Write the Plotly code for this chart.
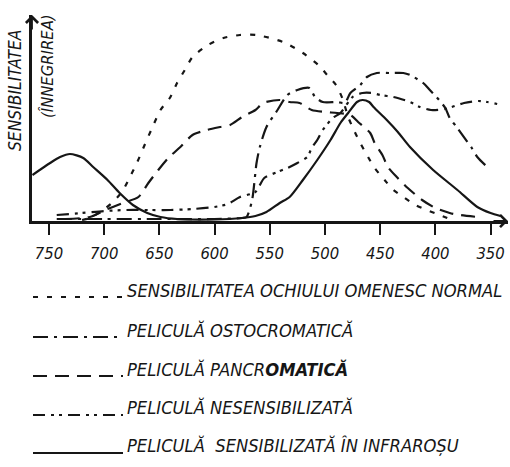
import plotly.graph_objects as go

# ---------------- data ----------------
tick_vals = [750, 700, 650, 600, 550, 500, 450, 400, 350]
tick_text = ["750", "700", "650", "600", "550", "500", "450", "400", "350"]

# Sensibilitatea ochiului omenesc normal (short dashes)
eye_wl = [720, 713, 701, 692, 684, 678, 670, 663, 657, 649, 640, 634, 627, 620, 606, 592, 577,
          562, 538, 520, 506, 498, 490, 484, 479, 473, 468, 461, 455, 446, 438, 429, 418, 408,
          396, 387]
eye_val = [1, 3, 11, 19, 29, 41, 59, 77, 92, 111, 124, 138, 151, 164, 176, 183, 186,
           186, 179, 168, 156, 146, 136, 122, 104, 89, 78, 64, 53, 41, 31, 24, 16, 11,
           6, 2]

# Pelicula ortocromatica (dash-dot)
orto_wl = [743, 700, 650, 600, 575, 571, 566, 562, 559, 553, 543, 534, 525, 514, 509, 502, 489,
           482, 477, 468, 462, 453, 441, 429, 423, 411, 405, 399, 391, 387, 380, 371, 367, 362, 352]
orto_val = [2, 2, 2, 2, 3, 4, 21, 58, 74, 94, 111, 126, 131, 133, 124, 119, 119,
            118, 128, 136, 144, 148, 148, 148, 146, 138, 131, 124, 113, 103, 93, 79, 73, 64, 53]

# Pelicula pancromatica (long dashes)
pan_wl = [735, 713, 699, 683, 669, 660, 651, 642, 631, 620, 607, 595, 586, 575, 563, 556, 541,
          532, 523, 512, 500, 489, 477, 470, 459, 455, 448, 443, 435, 425, 412, 400, 387, 378, 362]
pan_val = [2, 4, 11, 18, 24, 38, 51, 63, 74, 86, 91, 94, 96, 104, 111, 118, 121,
           119, 118, 111, 109, 108, 106, 99, 88, 78, 66, 54, 44, 33, 21, 13, 8, 6, 4]

# Pelicula nesensibilizata (dash-dot-dot)
nes_wl = [743, 720, 700, 680, 660, 640, 620, 600, 588, 577, 563, 555, 543, 534, 525, 516, 512,
          507, 502, 493, 486, 475, 466, 457, 450, 438, 423, 414, 404, 391, 385, 374, 361, 353, 344]
nes_val = [6, 8, 10, 11, 11, 11, 12, 14, 17, 24, 29, 43, 49, 53, 58, 64, 73,
           81, 91, 103, 108, 124, 128, 128, 126, 124, 119, 114, 111, 112, 114, 118, 120, 119, 117]

# Pelicula sensibilizata in infrarosu (solid)
ir_wl = [765, 749, 740, 731, 719, 710, 697, 686, 674, 661, 649, 634, 600, 575, 563, 553, 541,
         532, 520, 507, 495, 486, 479, 471, 466, 460, 456, 444, 434, 423, 402, 380, 362, 350, 341]
ir_val = [46, 58, 64, 67, 63, 54, 41, 28, 16, 8, 4, 2, 1.5, 3, 5, 9, 18,
          24, 41, 61, 81, 98, 108, 119, 121, 119, 114, 101, 89, 74, 51, 31, 14, 8, 5]

series_names = [
    "SENSIBILITATEA OCHIULUI OMENESC NORMAL",
    "PELICULĂ OSTOCROMATICĂ",
    "PELICULĂ PANCR<b>OMATICĂ</b>",
    "PELICULĂ NESENSIBILIZATĂ",
    "PELICULĂ  SENSIBILIZATĂ ÎN INFRAROȘU",
]
y_title_1 = "SENSIBILITATEA"
y_title_2 = "(ÎNNEGRIREA)"

# ---------------- styling ----------------
INK = "#161616"
FONT = "DejaVu Sans Condensed, sans-serif"
dashes = ["5px,9px", "15px,6px,3px,6px", "14px,8px", "12px,6px,3px,5px,3px,6px", "solid"]
series = [(eye_wl, eye_val), (orto_wl, orto_val), (pan_wl, pan_val), (nes_wl, nes_val), (ir_wl, ir_val)]

W, H = 510, 467
L, R, T, B = 32, 2, 15, 246
x_range = [765.4, 334.2]
y_range = [0, 206]

fig = go.Figure()
for (wl, val), dash, name in zip(series, dashes, series_names):
    fig.add_trace(go.Scatter(
        x=wl, y=val, mode="lines", name=name, showlegend=False,
        line=dict(color=INK, width=2.2, dash=dash, shape="spline", smoothing=0.7),
        hoverinfo="skip",
    ))

pw = W - L - R
ph = H - T - B


def px_x(x):
    return (x - L) / pw


def px_y(y):
    return (H - B - y) / ph


shapes = []
annotations = []
row_text_y = [290, 330, 369, 407, 445]
row_line_y = [297, 337, 376, 415, 453]
for i, name in enumerate(series_names):
    shapes.append(dict(type="line", xref="paper", yref="paper",
                       x0=px_x(33), x1=px_x(123), y0=px_y(row_line_y[i]), y1=px_y(row_line_y[i]),
                       line=dict(color=INK, width=2, dash=dashes[i])))
    annotations.append(dict(xref="paper", yref="paper", x=px_x(125), y=px_y(row_text_y[i]),
                            text=name, showarrow=False, xanchor="left", yanchor="middle",
                            font=dict(family=FONT, size=18.2, color=INK, style="italic")))

# axis titles
annotations.append(dict(xref="paper", yref="paper", x=px_x(15), y=px_y(90), text=y_title_1,
                        textangle=-90, showarrow=False, xanchor="center", yanchor="middle",
                        font=dict(family=FONT, size=17.3, color=INK, style="italic")))
annotations.append(dict(xref="paper", yref="paper", x=px_x(47), y=px_y(66), text=y_title_2,
                        textangle=-90, showarrow=False, xanchor="center", yanchor="middle",
                        font=dict(family=FONT, size=16.5, color=INK, style="italic")))
# axis arrows
annotations.append(dict(xref="paper", yref="paper", x=0, y=1, ax=0, ay=16, axref="pixel", ayref="pixel",
                        showarrow=True, arrowhead=4, arrowsize=1.3, arrowwidth=1.8, arrowcolor=INK, text=""))
annotations.append(dict(xref="paper", yref="paper", x=1, y=0, ax=-16, ay=0, axref="pixel", ayref="pixel",
                        showarrow=True, arrowhead=4, arrowsize=1.3, arrowwidth=1.8, arrowcolor=INK, text=""))

fig.update_layout(
    width=W, height=H,
    margin=dict(l=L, r=R, t=T, b=B, pad=0),
    paper_bgcolor="white", plot_bgcolor="white",
    shapes=shapes, annotations=annotations,
    xaxis=dict(range=x_range, tickmode="array", tickvals=tick_vals, ticktext=tick_text,
               ticks="outside", ticklen=11, tickwidth=1.6, tickcolor=INK,
               showline=True, linewidth=2.5, linecolor=INK, showgrid=False, zeroline=False,
               ticklabelstandoff=4,
               tickfont=dict(family=FONT, size=16.5, color=INK, style="italic")),
    yaxis=dict(range=y_range, showticklabels=False, ticks="", showline=True, linewidth=2.5,
               linecolor=INK, showgrid=False, zeroline=False),
)

fig.write_html("out.html", config={"displayModeBar": False},
               post_script="document.body.style.margin='0';document.body.style.overflow='hidden';")
